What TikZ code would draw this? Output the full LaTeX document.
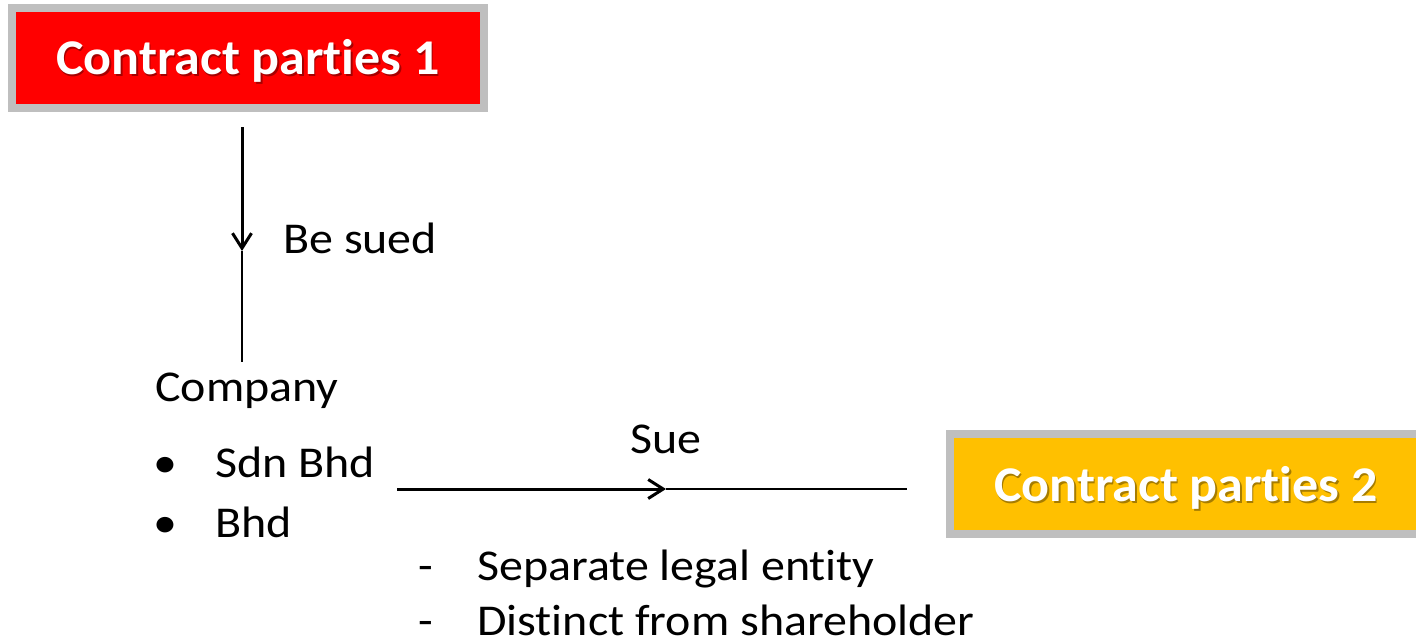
\documentclass[tikz,border=0pt]{standalone}
\usepackage{fontspec}
\setmainfont{Carlito}[Ligatures=NoCommon]
\newfontfamily\bodyfont{Carlito}[Ligatures=NoCommon,FakeStretch=1.09]
\newfontfamily\titlefont{Carlito}[Ligatures=NoCommon,FakeStretch=1.04]
\usetikzlibrary{arrows.meta}
\definecolor{boxred}{RGB}{255,0,0}
\definecolor{boxgold}{RGB}{255,192,0}
\definecolor{boxrim}{RGB}{191,191,191}
\begin{document}
\begin{tikzpicture}[x=1pt,y=-1pt,
  partybox/.style={draw=boxrim,line width=8pt,minimum width=472pt,minimum height=100pt,inner sep=0pt},
  partytext/.style={text=white,font=\titlefont\fontsize{50}{50}\selectfont\bfseries,inner sep=0pt},
  partyshade/.style={text=black,opacity=0.35,font=\titlefont\fontsize{50}{50}\selectfont\bfseries,inner sep=0pt},
  plain/.style={font=\bodyfont\fontsize{44}{44}\selectfont,inner sep=0pt,anchor=base west},
  thickseg/.style={line width=3pt,-{Straight Barb[length=15pt,width=19pt,line width=3pt]}},
  thinseg/.style={line width=1.3pt}]
\useasboundingbox (0,0) rectangle (1416,641);

% contract party boxes
\node[partybox,fill=boxred] (cp1) at (248,58) {};
\node[partyshade] (cp1s) at (249.5,62.5) {Contract parties 1};
\node[partytext] (cp1t) at (248,61) {Contract parties 1};

\node[partybox,fill=boxgold] (cp2) at (1186,484) {};
\node[partyshade] (cp2s) at (1187.5,489.5) {Contract parties 2};
\node[partytext] (cp2t) at (1186,488) {Contract parties 2};

% company and its forms
\node[plain] (company) at (155,401) {Company};
\node[plain] (b1) at (153,477) {•};
\node[plain] (sdn) at (215,477) {Sdn Bhd};
\node[plain] (b2) at (153,537) {•};
\node[plain] (bhd) at (215,537) {Bhd};

% characteristics
\node[plain] (d1) at (418,580) {-};
\node[plain] (sep) at (477,580) {Separate legal entity};
\node[plain] (d2) at (418,635) {-};
\node[plain] (dist) at (477,635) {Distinct from shareholder};

% connector labels
\node[plain] (besued) at (283,253) {Be sued};
\node[plain] (sue) at (630,453) {Sue};

% connectors
\coordinate (v1) at (242,127);
\coordinate (v2) at (242,251);
\coordinate (v3) at (242,362);
\draw[thickseg] (v1) -- (v2);
\draw[thinseg] (v2) -- (v3);

\coordinate (h1) at (397,489);
\coordinate (h2) at (666,489);
\coordinate (h3) at (907,489);
\draw[thickseg] (h1) -- (h2);
\draw[thinseg] (h2) -- (h3);
\end{tikzpicture}
\end{document}
